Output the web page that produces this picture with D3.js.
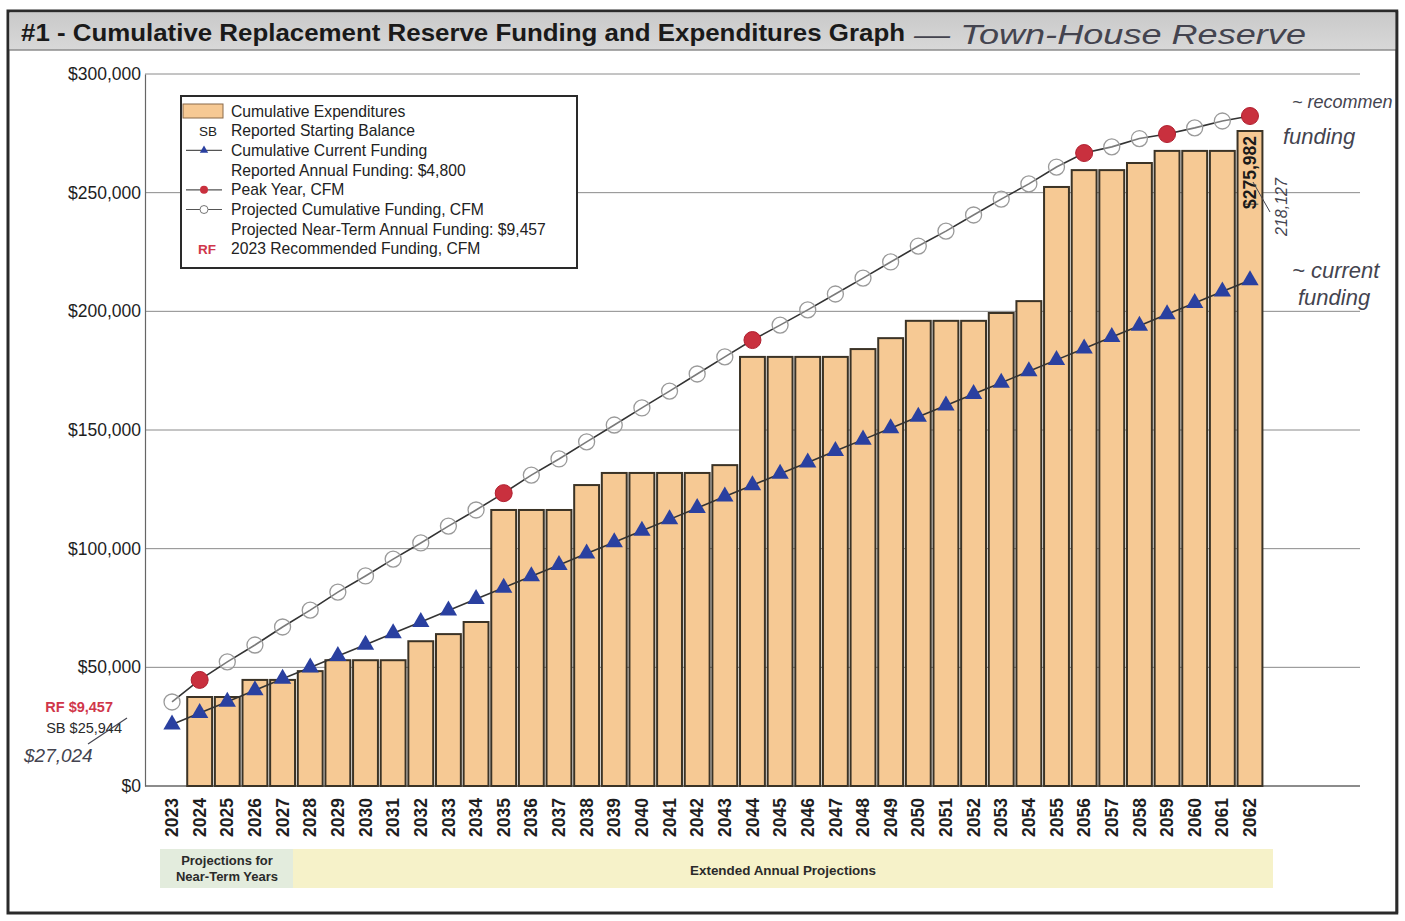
<!DOCTYPE html>
<html>
<head>
<meta charset="utf-8">
<script src="https://cdn.jsdelivr.net/npm/d3@7"></script>
<style>
  html, body { margin: 0; padding: 0; background: #ffffff; }
  svg { display: block; }
  text { font-family: "Liberation Sans", Arial, sans-serif; }
</style>
</head>
<body>
<svg id="chart" width="1405" height="921"></svg>
<script>
// ---------- DATA ----------
const years = ["2023","2024","2025","2026","2027","2028","2029","2030","2031","2032",
  "2033","2034","2035","2036","2037","2038","2039","2040","2041","2042",
  "2043","2044","2045","2046","2047","2048","2049","2050","2051","2052",
  "2053","2054","2055","2056","2057","2058","2059","2060","2061","2062"];

const cumulativeExpenditures = [0, 37500, 37500, 44700, 44700, 48400, 53000, 53000, 53000, 61000,
  64000, 69100, 116300, 116300, 116300, 126800, 131900, 131900, 131900, 131900,
  135200, 180800, 180800, 180800, 180800, 184100, 188700, 196000, 196000, 196000,
  199300, 204300, 252400, 259500, 259500, 262500, 267600, 267600, 267600, 275982];

const cumulativeCurrentFunding = [25944, 30744, 35544, 40344, 45144, 49944, 54744, 59544, 64344, 69144,
  73944, 78744, 83544, 88344, 93144, 97944, 102744, 107544, 112344, 117144,
  121944, 126744, 131544, 136344, 141144, 145944, 150744, 155544, 160344, 165144,
  169944, 174744, 179544, 184344, 189144, 193944, 198744, 203544, 208344, 213144];

const projectedCumulativeFunding = [35400, 44700, 52300, 59400, 67000, 74100, 81700, 88500, 95600, 102400,
  109500, 116300, 123400, 131000, 137800, 145000, 152100, 159300, 166400, 173600,
  180800, 187900, 194200, 200600, 207300, 214000, 220800, 227500, 233800, 240600,
  247300, 253700, 260800, 266700, 269300, 272800, 274700, 277300, 280200, 282300];

const peakYears = ["2024","2035","2044","2056","2059","2062"];

const yTickValues = [0, 50000, 100000, 150000, 200000, 250000, 300000];
const yTickLabels = ["$0", "$50,000", "$100,000", "$150,000", "$200,000", "$250,000", "$300,000"];

const legendLabels = [
  "Cumulative Expenditures",
  "Reported Starting Balance",
  "Cumulative Current Funding",
  "Reported Annual Funding: $4,800",
  "Peak Year, CFM",
  "Projected Cumulative Funding, CFM",
  "Projected Near-Term Annual Funding: $9,457",
  "2023 Recommended Funding, CFM"
];

const titleText = "#1 - Cumulative Replacement Reserve Funding and Expenditures Graph";
const lastBarLabel = "$275,982";
const rfLabel = "RF $9,457";
const sbLabel = "SB $25,944";

// ---------- COLORS ----------
const barFill = "#f6c994";
const barStroke = "#3b3326";
const triColor = "#2a40a0";
const redColor = "#c9303e";
const lineColor = "#333333";
const handColor = "#44444f";

// ---------- SVG ----------
const svg = d3.select("#chart");

// outer frame
svg.append("rect").attr("x", 8).attr("y", 11).attr("width", 1389).attr("height", 902)
  .attr("fill", "#ffffff").attr("stroke", "#2a2a2a").attr("stroke-width", 3);

// title bar
const grad = svg.append("defs").append("linearGradient").attr("id", "tg")
  .attr("x1", 0).attr("x2", 0).attr("y1", 0).attr("y2", 1);
grad.append("stop").attr("offset", "0%").attr("stop-color", "#c9c9c9");
grad.append("stop").attr("offset", "100%").attr("stop-color", "#d8d8d8");
svg.append("rect").attr("x", 9.5).attr("y", 12.5).attr("width", 1386).attr("height", 37)
  .attr("fill", "url(#tg)");
svg.append("line").attr("x1", 9).attr("x2", 1396).attr("y1", 50).attr("y2", 50)
  .attr("stroke", "#555").attr("stroke-width", 1.2);
svg.append("text").attr("x", 21).attr("y", 41)
  .attr("font-size", 24).attr("font-weight", "bold").attr("fill", "#1a1a1a")
  .attr("textLength", 884).attr("lengthAdjust", "spacingAndGlyphs")
  .text(titleText);
svg.append("text").attr("x", 914).attr("y", 44)
  .attr("font-family", "DejaVu Sans").attr("font-size", 28).attr("font-weight", 300)
  .attr("font-style", "italic").attr("fill", handColor)
  .attr("textLength", 392).attr("lengthAdjust", "spacingAndGlyphs")
  .text("— Town-House Reserve");

// ---------- SCALES ----------
const x = d3.scaleBand().domain(years).range([158.2, 1263.8]).paddingInner(0.1).paddingOuter(0.05);
const y = d3.scaleLinear().domain([0, 300000]).range([786, 74]);
const xc = d => x(d) + x.bandwidth() / 2;

// gridlines
svg.append("g").selectAll("line").data(yTickValues).join("line")
  .attr("x1", 145).attr("x2", 1360)
  .attr("y1", d => y(d)).attr("y2", d => y(d))
  .attr("stroke", d => d === 0 ? "#666" : "#8a8a8a").attr("stroke-width", d => d === 0 ? 1.3 : 1);

// y axis
const yAxis = d3.axisLeft(y).tickValues(yTickValues)
  .tickFormat((d, i) => yTickLabels[i]).tickSize(0).tickPadding(4);
const gy = svg.append("g").attr("transform", "translate(145,0)").call(yAxis);
gy.select(".domain").attr("stroke", "#666").attr("stroke-width", 1.2);
gy.selectAll("text").attr("font-size", 17.5).attr("fill", "#1e1e1e")
  .attr("font-family", "'Liberation Sans', Arial, sans-serif");

// x axis (years rotated)
const xAxis = d3.axisBottom(x).tickSize(0).tickPadding(0);
const gx = svg.append("g").attr("transform", "translate(0,786)").call(xAxis);
gx.select(".domain").remove();
gx.selectAll("text")
  .attr("font-size", 17.5).attr("font-weight", "bold").attr("fill", "#1e1e1e")
  .attr("font-family", "'Liberation Sans', Arial, sans-serif")
  .attr("transform", "rotate(-90)")
  .attr("text-anchor", "end").attr("x", -12).attr("y", 0).attr("dy", "0.35em");

// ---------- BARS ----------
svg.append("g").selectAll("rect").data(years.map((yr, i) => ({yr, v: cumulativeExpenditures[i]})).filter(d => d.v > 0))
  .join("rect")
  .attr("x", d => x(d.yr)).attr("width", x.bandwidth())
  .attr("y", d => y(d.v)).attr("height", d => y(0) - y(d.v))
  .attr("fill", barFill).attr("stroke", barStroke).attr("stroke-width", 2);

// last bar label
const lastYear = years[years.length - 1];
svg.append("text")
  .attr("transform", `translate(${xc(lastYear) + 6.5},${y(cumulativeExpenditures[cumulativeExpenditures.length - 1]) + 5}) rotate(-90)`)
  .attr("text-anchor", "end").attr("font-size", 17.5).attr("font-weight", "bold").attr("fill", "#1a1a1a")
  .text(lastBarLabel);

// ---------- LINES ----------
const cfData = years.map((yr, i) => ({yr, v: cumulativeCurrentFunding[i]}));
const pfData = years.map((yr, i) => ({yr, v: projectedCumulativeFunding[i]}));
const lineGen = d3.line().x(d => xc(d.yr)).y(d => y(d.v));

svg.append("path").datum(cfData).attr("d", lineGen)
  .attr("fill", "none").attr("stroke", lineColor).attr("stroke-width", 1.6);
svg.append("path").datum(pfData).attr("d", lineGen)
  .attr("fill", "none").attr("stroke", lineColor).attr("stroke-width", 1.6);

// triangles
const tri = d3.symbol().type(d3.symbolTriangle).size(130);
svg.append("g").selectAll("path").data(cfData).join("path")
  .attr("d", tri).attr("transform", d => `translate(${xc(d.yr)},${y(d.v)})`)
  .attr("fill", triColor);

// open circles (non-peak)
svg.append("g").selectAll("circle").data(pfData.filter(d => !peakYears.includes(d.yr))).join("circle")
  .attr("cx", d => xc(d.yr)).attr("cy", d => y(d.v)).attr("r", 8)
  .attr("fill", "#ffffff").attr("fill-opacity", 0.35).attr("stroke", "#9a9a9a").attr("stroke-width", 1.3);

// red peak dots
svg.append("g").selectAll("circle").data(pfData.filter(d => peakYears.includes(d.yr))).join("circle")
  .attr("cx", d => xc(d.yr)).attr("cy", d => y(d.v)).attr("r", 8.5)
  .attr("fill", redColor).attr("stroke", "#b02030").attr("stroke-width", 1);

// ---------- LEFT ANNOTATIONS ----------
svg.append("text").attr("x", 113).attr("y", 712).attr("text-anchor", "end")
  .attr("font-size", 14.5).attr("font-weight", "bold").attr("fill", "#d0364a").text(rfLabel);
svg.append("text").attr("x", 122).attr("y", 733).attr("text-anchor", "end")
  .attr("font-size", 14.5).attr("fill", "#2a2a2a").text(sbLabel);
svg.append("line").attr("x1", 88).attr("y1", 744).attr("x2", 127).attr("y2", 718)
  .attr("stroke", handColor).attr("stroke-width", 1.2);
svg.append("text").attr("x", 24).attr("y", 762)
  .attr("font-family", "DejaVu Sans").attr("font-size", 19).attr("font-style", "italic").attr("font-weight", 300)
  .attr("fill", handColor).text("$27,024");

// ---------- RIGHT HANDWRITTEN NOTES ----------
svg.append("text").attr("transform", "translate(1287,236) rotate(-90)")
  .attr("font-family", "DejaVu Sans").attr("font-size", 16).attr("font-style", "italic").attr("font-weight", 300)
  .attr("fill", handColor).text("218,127");
svg.append("line").attr("x1", 1253).attr("y1", 182).attr("x2", 1270).attr("y2", 212)
  .attr("stroke", handColor).attr("stroke-width", 1);
const hand = [
  {t: "~ recommen", x: 1292, y: 108, s: 18},
  {t: "funding", x: 1283, y: 144, s: 22},
  {t: "~ current", x: 1292, y: 278, s: 22},
  {t: "funding", x: 1298, y: 305, s: 22}
];
svg.append("g").selectAll("text").data(hand).join("text")
  .attr("x", d => d.x).attr("y", d => d.y)
  .attr("font-family", "DejaVu Sans").attr("font-size", d => d.s).attr("font-style", "italic").attr("font-weight", 300)
  .attr("fill", handColor).text(d => d.t);
// redraw right frame edge over overflowing note
svg.append("line").attr("x1", 1397).attr("x2", 1397).attr("y1", 11).attr("y2", 913)
  .attr("stroke", "#2a2a2a").attr("stroke-width", 3);
svg.append("rect").attr("x", 1398.5).attr("y", 0).attr("width", 10).attr("height", 921).attr("fill", "#ffffff");

// ---------- BOTTOM BANDS ----------
svg.append("rect").attr("x", 160).attr("y", 849).attr("width", 133).attr("height", 39).attr("fill", "#e3ecdd");
svg.append("rect").attr("x", 293).attr("y", 849).attr("width", 980).attr("height", 39).attr("fill", "#f6f2c9");
svg.append("text").attr("x", 227).attr("y", 865).attr("text-anchor", "middle")
  .attr("font-size", 13).attr("font-weight", "bold").attr("fill", "#2a2a2a").text("Projections for");
svg.append("text").attr("x", 227).attr("y", 881).attr("text-anchor", "middle")
  .attr("font-size", 13).attr("font-weight", "bold").attr("fill", "#2a2a2a").text("Near-Term Years");
svg.append("text").attr("x", 783).attr("y", 875).attr("text-anchor", "middle")
  .attr("font-size", 13).attr("font-weight", "bold").attr("fill", "#2a2a2a")
  .attr("textLength", 186).attr("lengthAdjust", "spacingAndGlyphs")
  .text("Extended Annual Projections");

// ---------- LEGEND ----------
const lg = svg.append("g");
lg.append("rect").attr("x", 181).attr("y", 96).attr("width", 396).attr("height", 172)
  .attr("fill", "#ffffff").attr("stroke", "#2a2a2a").attr("stroke-width", 2);
const rowY = i => 111 + i * 19.7;
lg.selectAll("text.lbl").data(legendLabels).join("text").attr("class", "lbl")
  .attr("x", 231).attr("y", (d, i) => rowY(i) + 5.5)
  .attr("font-size", 15.7).attr("fill", "#222").text(d => d);
// swatch
lg.append("rect").attr("x", 183).attr("y", rowY(0) - 7).attr("width", 40).attr("height", 14)
  .attr("fill", barFill).attr("stroke", "#8a6a4a").attr("stroke-width", 1);
// SB
lg.append("text").attr("x", 208).attr("y", rowY(1) + 5).attr("text-anchor", "middle")
  .attr("font-size", 13.5).attr("fill", "#222").text("SB");
// triangle line
lg.append("line").attr("x1", 186).attr("x2", 222).attr("y1", rowY(2)).attr("y2", rowY(2))
  .attr("stroke", "#555").attr("stroke-width", 1.2);
lg.append("path").attr("d", d3.symbol().type(d3.symbolTriangle).size(30)())
  .attr("transform", `translate(204,${rowY(2)})`).attr("fill", triColor);
// peak
lg.append("line").attr("x1", 186).attr("x2", 222).attr("y1", rowY(4)).attr("y2", rowY(4))
  .attr("stroke", "#555").attr("stroke-width", 1.2);
lg.append("circle").attr("cx", 204).attr("cy", rowY(4)).attr("r", 4).attr("fill", redColor);
// open circle
lg.append("line").attr("x1", 186).attr("x2", 222).attr("y1", rowY(5)).attr("y2", rowY(5))
  .attr("stroke", "#555").attr("stroke-width", 1.2);
lg.append("circle").attr("cx", 204).attr("cy", rowY(5)).attr("r", 4)
  .attr("fill", "#fff").attr("stroke", "#777").attr("stroke-width", 1);
// RF
lg.append("text").attr("x", 207).attr("y", rowY(7) + 5).attr("text-anchor", "middle")
  .attr("font-size", 13.5).attr("font-weight", "bold").attr("fill", "#d0364a").text("RF");
</script>
</body>
</html>
